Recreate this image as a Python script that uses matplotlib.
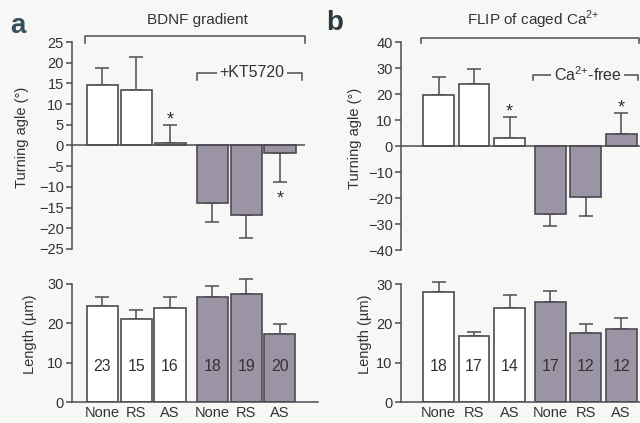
import matplotlib
matplotlib.use('Agg')
import matplotlib.pyplot as plt
import numpy as np

plt.rcParams['font.family'] = ['Liberation Sans', 'DejaVu Sans']
plt.rcParams['mathtext.fontset'] = 'custom'
plt.rcParams['mathtext.rm'] = 'Liberation Sans'

groups = ['None', 'RS', 'AS', 'None', 'RS', 'AS']

# panel a: BDNF gradient
bdnf_angle = [14.5, 13.4, 0.5, -14.0, -16.9, -1.9]
bdnf_angle_err = [4.3, 7.9, 4.5, 4.4, 5.4, 6.8]
bdnf_length = [24.3, 20.9, 23.9, 26.5, 27.3, 17.3]
bdnf_length_err = [2.4, 2.5, 2.8, 2.9, 3.9, 2.5]
bdnf_n = [23, 15, 16, 18, 19, 20]
bdnf_sig = [2, 5]

# panel b: FLIP of caged Ca2+
flip_angle = [19.7, 24.1, 3.3, -26.0, -19.6, 4.9]
flip_angle_err = [6.9, 5.7, 8.0, 4.6, 7.2, 8.0]
flip_length = [27.9, 16.8, 24.0, 25.5, 17.5, 18.5]
flip_length_err = [2.5, 1.1, 3.3, 2.6, 2.3, 2.8]
flip_n = [18, 17, 14, 17, 12, 12]
flip_sig = [2, 5]

bg = '#f7f7f5'
edge = '#4e4a52'
grey = '#9b94a4'
txt = '#333333'
fills = ['white'] * 3 + [grey] * 3

W, H = 640, 423
fig = plt.figure(figsize=(6.4, 4.23), dpi=100, facecolor=bg)


def rect(x0, x1, ytop, ybot):
    return [x0 / W, 1 - ybot / H, (x1 - x0) / W, (ybot - ytop) / H]


def style(ax, lo, hi, step):
    ax.set_facecolor('none')
    for s in ['top', 'right', 'bottom']:
        ax.spines[s].set_visible(False)
    ax.spines['left'].set_bounds(lo, hi)
    ax.spines['left'].set_color(edge)
    ax.spines['left'].set_linewidth(1.1)
    ax.set_ylim(lo, hi)
    ax.set_yticks(np.arange(lo, hi + 1, step))
    ax.tick_params(axis='y', direction='out', length=4, width=1.1, color=edge,
                   labelcolor=txt, labelsize=10.5, pad=2)
    ax.tick_params(axis='x', length=0)


def bars(ax, x, vals, errs, width):
    vals = np.array(vals)
    errs = np.array(errs)
    ax.bar(x, vals, width=width, color=fills, edgecolor=edge, linewidth=1.2, zorder=2)
    lower = np.where(vals < 0, errs, 0)
    upper = np.where(vals >= 0, errs, 0)
    ax.errorbar(x, vals, yerr=[lower, upper], fmt='none', ecolor=edge,
                elinewidth=1.1, capsize=5, capthick=1.1, clip_on=False, zorder=1)


def stars(ax, x, vals, errs, sig):
    for i in sig:
        v = vals[i]
        sgn = 1 if v >= 0 else -1
        ax.annotate('*', (x[i], v + sgn * errs[i]), xytext=(0, sgn * 8 - 4.5),
                    textcoords='offset points', ha='center', va='center',
                    fontsize=13, color=txt)


def bracket(ax, x0, x1, y, drop, label=None, lx=None):
    ax.plot([x0, x0, x1, x1], [y - drop, y, y, y - drop], color=edge, lw=1.1,
            clip_on=False)
    if label:
        ax.text(lx, y, label, ha='center', va='center', fontsize=11.5, color=txt,
                bbox=dict(facecolor=bg, edgecolor='none', pad=2))


def panel(top_rect, bot_rect, x, ang, ang_err, lim, step,
          length, length_err, n, sig, width, xl, ylab_top, ylab_bot):
    axt = fig.add_axes(top_rect)
    style(axt, -lim, lim, step)
    axt.set_xlim(*xl)
    axt.set_xticks([])
    axt.axhline(0, color=edge, lw=1.1, zorder=3)
    bars(axt, x, ang, ang_err, width)
    stars(axt, x, ang, ang_err, sig)
    axt.set_ylabel('Turning agle (°)', fontsize=10.5, color=txt)
    axt.yaxis.set_label_coords(ylab_top, 0.54)

    axb = fig.add_axes(bot_rect)
    style(axb, 0, 30, 10)
    axb.spines['bottom'].set_visible(True)
    axb.spines['bottom'].set_color(edge)
    axb.spines['bottom'].set_linewidth(1.1)
    axb.set_xlim(*xl)
    bars(axb, x, length, length_err, width)
    for xi, ni in zip(x, n):
        axb.text(xi, 9, str(ni), ha='center', va='center', fontsize=11.5, color=txt)
    axb.set_xticks(x)
    axb.set_xticklabels(groups, fontsize=10.5, color=txt)
    axb.tick_params(axis='x', pad=3)
    axb.set_ylabel('Length (µm)', fontsize=10.5, color=txt)
    axb.yaxis.set_label_coords(ylab_bot, 0.57)
    return axt, axb


xa = np.array([0, 1, 2, 3.25, 4.25, 5.25])
xb = np.array([0, 1, 2, 3.15, 4.15, 5.15])

axa, axa2 = panel(rect(72, 305, 42, 249), rect(72, 318, 283.5, 402),
                  xa, bdnf_angle, bdnf_angle_err, 25, 5,
                  bdnf_length, bdnf_length_err, bdnf_n, bdnf_sig, 0.92,
                  (-0.9, 5.99), -0.185, -0.142)
axa2.set_xlim(-0.9, (318 - 102.5) / 33.8)
bracket(axa, -0.52, 5.99, 26.5, 1.7)
bracket(axa, 2.80, 5.90, 17.6, 1.7, '+KT5720', 4.43)

axb, axb2 = panel(rect(401, 640, 42.5, 250), rect(401, 640, 284, 402),
                  xb, flip_angle, flip_angle_err, 40, 10,
                  flip_length, flip_length_err, flip_n, flip_sig, 0.87,
                  (-1.06, 5.68), -0.163, -0.121)
bracket(axb, -0.49, 5.64, 41.7, 1.9)
bracket(axb, 2.66, 5.62, 27.6, 1.9, 'Ca$^{2{+}}$-free', 4.2)

fig.text(197 / W, 1 - 20 / H, 'BDNF gradient', ha='center', va='center',
         fontsize=11, color=txt)
fig.text(533 / W, 1 - 20 / H, 'FLIP of caged Ca$^{2{+}}$', ha='center', va='center',
         fontsize=11, color=txt)
fig.text(18 / W, 1 - 26 / H, 'a', ha='center', va='center', fontsize=20,
         fontweight='bold', color='#34505a')
fig.text(335 / W, 1 - 23 / H, 'b', ha='center', va='center', fontsize=20,
         fontweight='bold', color='#2e3a40')

fig.savefig('out.png', dpi=100, facecolor=bg)
